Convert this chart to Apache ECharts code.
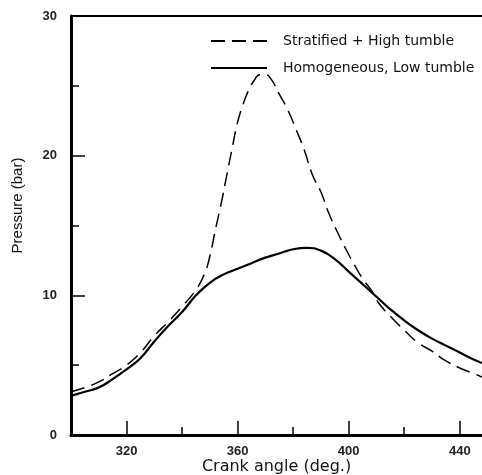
<!DOCTYPE html>
<html>
<head>
<meta charset="utf-8">
<script src="https://cdn.jsdelivr.net/npm/echarts@6/dist/echarts.min.js"></script>
<style>
  html, body { margin: 0; padding: 0; background: #fff; }
  #chart { width: 482px; height: 475px; }
</style>
</head>
<body>
<div id="chart"></div>
<script>
// crank angle (deg.) / pressure (bar)
var homoAngle = [300, 305, 310, 315, 320, 325, 330, 335, 340, 345, 350, 355, 360, 365, 370, 375, 380, 385, 390, 395, 400, 405, 410, 415, 420, 425, 430, 435, 440, 445, 448];
var homoPress = [2.8, 3.1, 3.4, 4.0, 4.7, 5.5, 6.7, 7.8, 8.8, 10.0, 10.9, 11.5, 11.9, 12.3, 12.7, 13.0, 13.3, 13.4, 13.2, 12.6, 11.7, 10.8, 9.9, 9.0, 8.2, 7.5, 6.9, 6.4, 5.9, 5.4, 5.15];

var stratAngle = [300, 305, 310, 315, 320, 325, 330, 335, 340, 345, 348, 350, 352, 354, 356, 358, 360, 362, 364, 366, 368, 370, 372, 375, 378, 381, 384, 387, 390, 393, 396, 399, 402, 405, 408, 411, 415, 420, 425, 430, 435, 440, 445, 448];
var stratPress = [3.1, 3.4, 3.8, 4.4, 5.0, 5.9, 7.1, 8.1, 9.2, 10.4, 11.5, 12.8, 14.7, 16.5, 18.5, 20.5, 22.4, 23.7, 24.7, 25.4, 25.8, 25.8, 25.5, 24.4, 23.3, 21.9, 20.4, 18.6, 17.4, 15.8, 14.5, 13.3, 12.2, 11.2, 10.4, 9.4, 8.5, 7.5, 6.6, 6.0, 5.3, 4.8, 4.4, 4.15];

var seriesNames = ['Stratified + High tumble', 'Homogeneous, Low tumble'];
var xMajorTicks = [320, 360, 400, 440];
var xMinorTicks = [340, 380, 420];

function pairs(xs, ys) {
  var out = [];
  for (var i = 0; i < xs.length; i++) {
    out.push([xs[i], ys[i]]);
  }
  return out;
}

var chart = echarts.init(document.getElementById('chart'));
var font = 'Liberation Sans, Arial, sans-serif';
var wide = 'DejaVu Sans, sans-serif';

var option = {
  backgroundColor: '#fff',
  animation: false,
  grid: { left: 71, right: 0, top: 16, bottom: 40, outerBoundsMode: 'none' },
  legend: {
    orient: 'vertical',
    left: 205,
    top: 29,
    itemWidth: 56,
    itemHeight: 14,
    itemGap: 13,
    data: seriesNames,
    itemStyle: { opacity: 0 },
    textStyle: { color: '#111', fontFamily: wide, fontSize: 14, padding: [0, 0, 0, 11] }
  },
  xAxis: [{
    type: 'value',
    min: 300,
    max: 448,
    position: 'bottom',
    name: 'Crank angle (deg.)',
    nameLocation: 'middle',
    nameGap: 24,
    nameMoveOverlap: false,
    nameTextStyle: { color: '#111', fontFamily: wide, fontSize: 16 },
    axisLine: { show: true, onZero: false, lineStyle: { color: '#000', width: 3 } },
    axisTick: { show: true, inside: true, length: 14, customValues: xMajorTicks, lineStyle: { color: '#000', width: 1.5 } },
    axisLabel: { show: true, customValues: xMajorTicks, margin: 10, color: '#222', fontFamily: font, fontSize: 13, fontWeight: 'bold' },
    splitLine: { show: false }
  }, {
    type: 'value',
    min: 300,
    max: 448,
    position: 'bottom',
    axisLine: { show: false },
    axisTick: { show: true, inside: true, length: 8, customValues: xMinorTicks, lineStyle: { color: '#000', width: 1.5 } },
    axisLabel: { show: false },
    splitLine: { show: false }
  }, {
    type: 'value',
    min: 300,
    max: 448,
    position: 'top',
    axisLine: { show: true, onZero: false, lineStyle: { color: '#000', width: 2 } },
    axisTick: { show: false },
    axisLabel: { show: false },
    splitLine: { show: false }
  }],
  yAxis: {
    type: 'value',
    min: 0,
    max: 30,
    interval: 10,
    name: 'Pressure (bar)',
    nameLocation: 'middle',
    nameGap: 46,
    nameMoveOverlap: false,
    nameTextStyle: { color: '#111', fontFamily: font, fontSize: 15, padding: [0, 0, 0, 40] },
    axisLine: { show: true, onZero: false, lineStyle: { color: '#000', width: 3 } },
    axisTick: { show: true, inside: true, length: 14, lineStyle: { color: '#000', width: 1.5 } },
    minorTick: { show: true, splitNumber: 2, length: 8, lineStyle: { color: '#000', width: 1.5 } },
    axisLabel: { margin: 14, color: '#222', fontFamily: font, fontSize: 13, fontWeight: 'bold' },
    splitLine: { show: false }
  },
  series: [{
    name: seriesNames[0],
    type: 'line',
    symbol: 'none',
    smooth: true,
    data: pairs(stratAngle, stratPress),
    lineStyle: { color: '#000', width: 1.5, type: [14, 7] },
    itemStyle: { color: '#000' }
  }, {
    name: seriesNames[1],
    type: 'line',
    symbol: 'none',
    smooth: true,
    data: pairs(homoAngle, homoPress),
    lineStyle: { color: '#000', width: 2.2, type: 'solid' },
    itemStyle: { color: '#000' }
  }]
};

chart.setOption(option);
</script>
</body>
</html>
